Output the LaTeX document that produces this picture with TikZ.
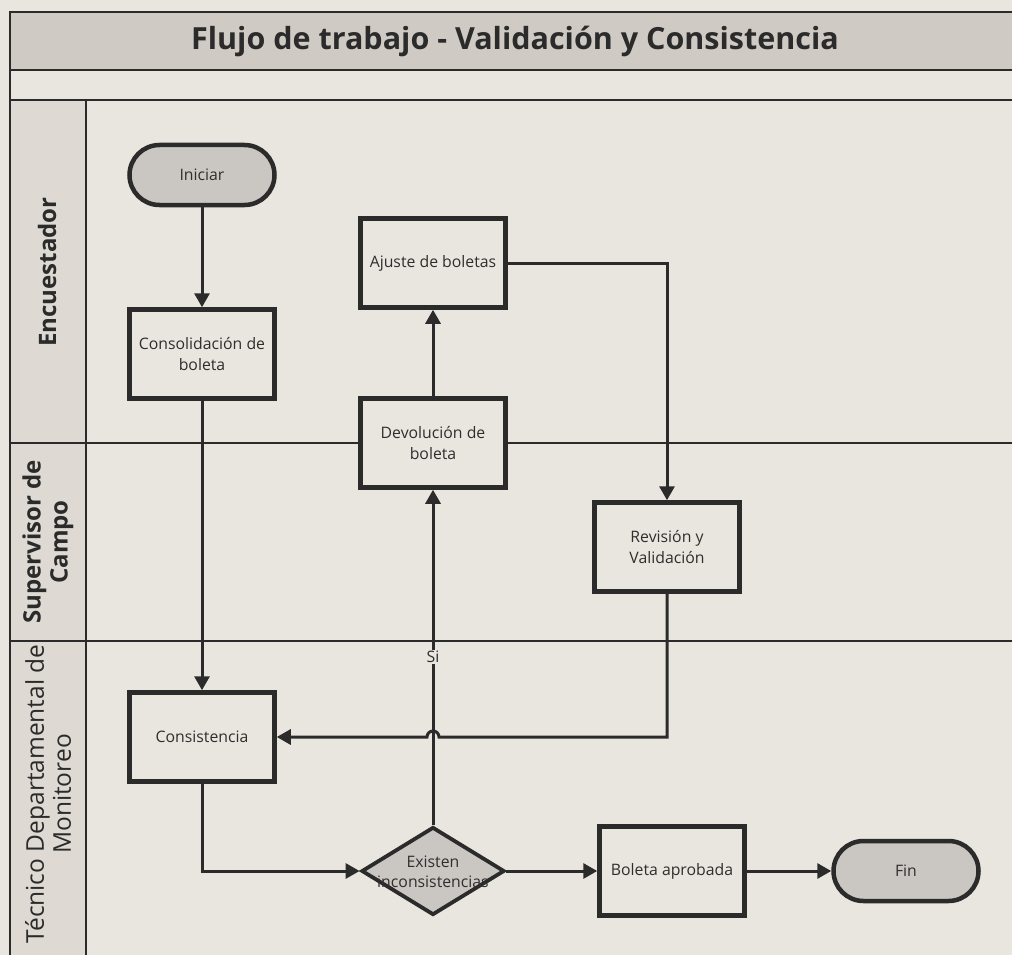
\documentclass[tikz,border=0pt]{standalone}
\usepackage{fontspec}
\setmainfont{Open Sans}
\usetikzlibrary{shapes.geometric,arrows.meta,calc}
\definecolor{paper}{HTML}{E9E6DF}
\definecolor{band}{HTML}{CFCBC4}
\definecolor{colfill}{HTML}{DEDAD3}
\definecolor{shade}{HTML}{CAC7C2}
\definecolor{ink}{HTML}{2B2B2B}
\definecolor{txt}{HTML}{2E2E2E}
\tikzset{
  grid/.style={draw=ink, line width=1.5pt},
  box/.style={draw=ink, line width=4.5pt, fill=paper, minimum width=145pt, minimum height=89pt, inner sep=0pt, align=center, text=txt, font=\fontsize{15.8}{20.5}\selectfont},
  term/.style={box, fill=shade, rounded corners=30pt, minimum height=60pt},
  dec/.style={draw=ink, line width=3.8pt, diamond, aspect=1.61, minimum width=143pt, minimum height=88pt, inner sep=0pt, fill=shade},
  dectext/.style={align=center, text=txt, inner sep=0pt, font=\fontsize{15.8}{20}\selectfont},
  conn/.style={draw=ink, line width=3pt, -{Triangle[length=14pt,width=15pt]}},
  lanebold/.style={rotate=90, align=center, text=ink, font=\fontsize{24}{27}\bfseries\selectfont},
  lanereg/.style={rotate=90, align=center, text=ink, font=\fontsize{24.5}{27}\selectfont},
}
\begin{document}
\begin{tikzpicture}[x=1pt,y=-1pt]
\fill[paper] (0,0) rectangle (1012,955);
\useasboundingbox (0,0) rectangle (1012,955);
% structure
\fill[band] (10,12) rectangle (1012,70);
\fill[colfill] (10,100) rectangle (86,955);
\draw[grid] (1012,12) -- (10,12) -- (10,955);
\draw[grid] (10,70) -- (1012,70);
\draw[grid] (10,100) -- (1012,100);
\draw[grid] (86,100) -- (86,955);
\draw[grid] (10,443) -- (1012,443);
\draw[grid] (10,641) -- (1012,641);
\node[text=ink, font=\fontsize{30.5}{34}\bfseries\selectfont] (title) at (515,41) {Flujo de trabajo - Validación y Consistencia};
% lane labels
\node[lanebold] (l1) at (47,272) {Encuestador};
\node[lanebold] (l2) at (48,542) {Supervisor de\\Campo};
\node[lanereg] (l3) at (48,794) {Técnico Departamental de\\Monitoreo};
% nodes
\node[term] (ini) at (202,175) {Iniciar};
\node[box] (cons) at (202,354) {Consolidación de\\boleta};
\node[box] (aju) at (433,263) {Ajuste de boletas};
\node[box] (dev) at (433,443) {Devolución de\\boleta};
\node[box] (rev) at (667,547) {Revisión y\\Validación};
\node[box] (consis) at (202,737) {Consistencia};
\node[dec] (dia) at (433,871) {};
\node[box] (bol) at (672,871) {Boleta aprobada};
\node[term] (fin) at (906,871) {Fin};
% connectors
\draw[conn] (ini) -- (cons);
\draw[conn] (cons) -- (consis);
\draw[conn] (consis.south) |- (dia.west);
\draw[conn] (dia.north) -- (dev.south);
\draw[conn] (dev) -- (aju);
\draw[conn] (aju.east) -| (rev.north);
\coordinate (jmp) at (dia.north |- consis.east);
\draw[conn] (rev.south) |- ($(jmp)+(6,0)$) arc[start angle=0, end angle=-180, radius=6] -- (consis.east);
\draw[conn] (dia.east) -- (bol.west);
\draw[conn] (bol.east) -- (fin.west);
\node[fill=paper, inner sep=1pt, text=txt, font=\fontsize{15.8}{18}\selectfont] (si) at (433,657) {Si};
\node[dectext] (diat) at (433,872) {Existen\\inconsistencias};
\end{tikzpicture}
\end{document}
